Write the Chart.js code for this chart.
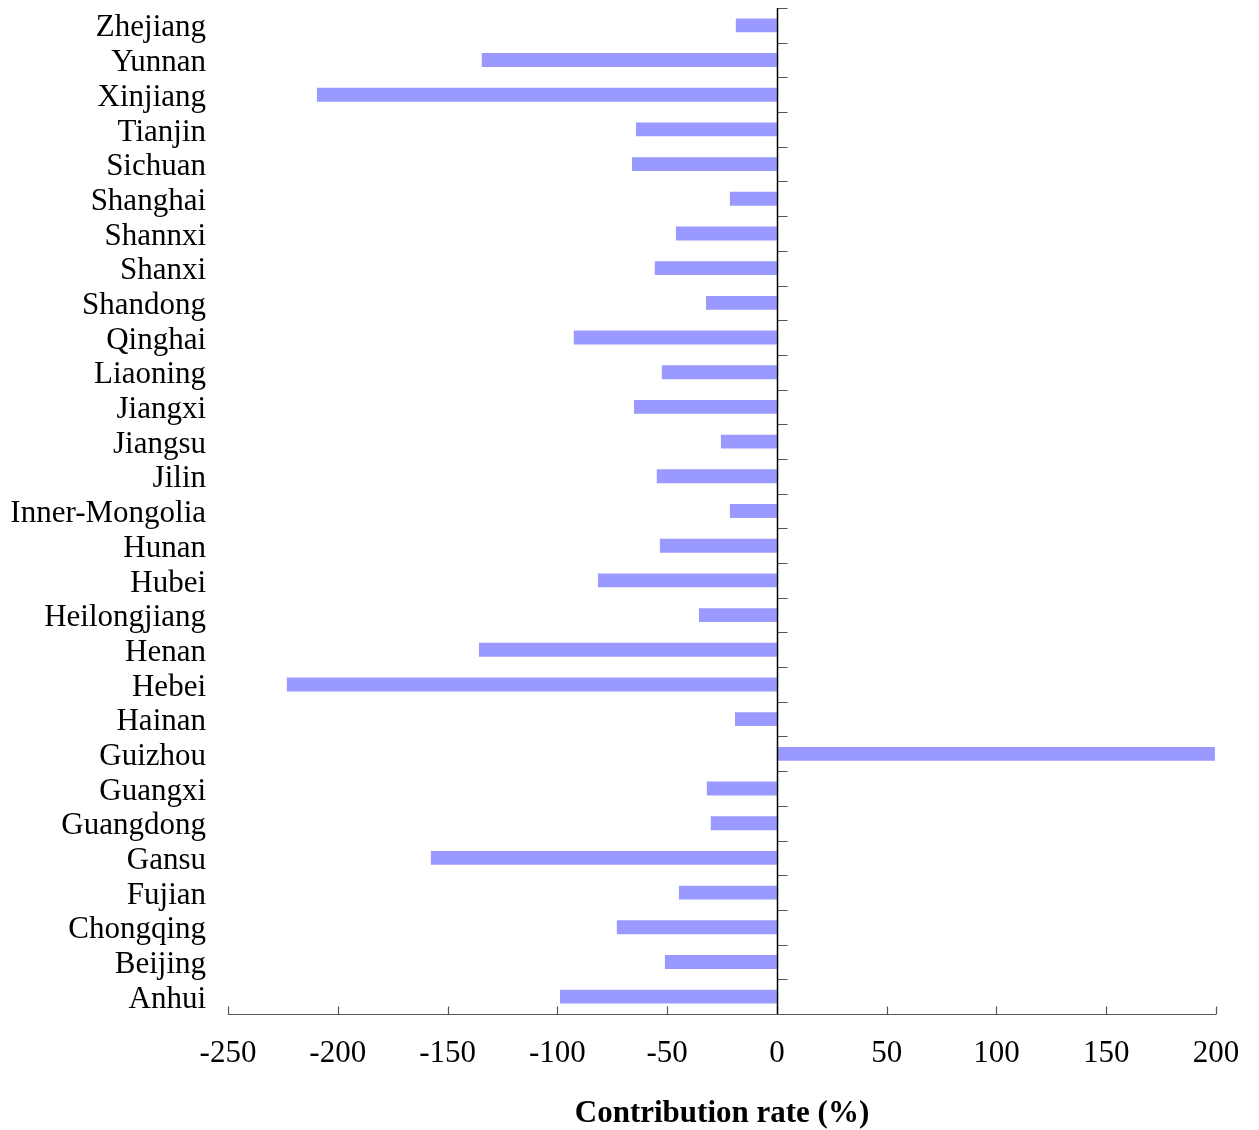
<!DOCTYPE html>
<html>
<head>
<meta charset="utf-8">
<script src="https://cdn.jsdelivr.net/npm/chart.js@4.4.1/dist/chart.umd.min.js"></script>
<style>
  html, body { margin: 0; padding: 0; background: #fff; }
  #wrap { width: 1259px; height: 1130px; position: relative; }
</style>
</head>
<body>
<div id="wrap"><canvas id="chart"></canvas></div>
<script>
// Provinces, listed bottom-to-top as they appear on the axis
const provinces = [
  'Anhui', 'Beijing', 'Chongqing', 'Fujian', 'Gansu', 'Guangdong', 'Guangxi',
  'Guizhou', 'Hainan', 'Hebei', 'Henan', 'Heilongjiang', 'Hubei', 'Hunan',
  'Inner-Mongolia', 'Jilin', 'Jiangsu', 'Jiangxi', 'Liaoning', 'Qinghai',
  'Shandong', 'Shanxi', 'Shannxi', 'Shanghai', 'Sichuan', 'Tianjin',
  'Xinjiang', 'Yunnan', 'Zhejiang'
];

// Contribution rate (%) per province
const contribution = [
  -98.8, -51.0, -72.9, -44.6, -157.6, -30.1, -31.9,
  199.5, -19.1, -223.2, -135.7, -35.5, -81.5, -53.3,
  -21.4, -54.7, -25.5, -65.1, -52.4, -92.5,
  -32.3, -55.6, -46.0, -21.4, -66.0, -64.2,
  -209.5, -134.4, -18.7
];

const xTicks = [-250, -200, -150, -100, -50, 0, 50, 100, 150, 200];

const FONT = 'Liberation Serif, Times New Roman, serif';

// Axis lines and inward tick marks: the category axis sits at x = 0
const axisPlugin = {
  id: 'axisMarks',
  afterDatasetsDraw(chart) {
    const { ctx, chartArea, scales } = chart;
    const x = scales.x, y = scales.y;
    const x0 = Math.round(x.getPixelForValue(0)) + 0.5;
    ctx.save();

    // horizontal axis with upward ticks
    ctx.strokeStyle = '#555';
    ctx.lineWidth = 1.2;
    const yb = Math.round(chartArea.bottom) + 0.5;
    ctx.beginPath();
    ctx.moveTo(chartArea.left, yb);
    ctx.lineTo(chartArea.right, yb);
    xTicks.forEach(v => {
      const px = Math.round(x.getPixelForValue(v)) + 0.5;
      ctx.moveTo(px, yb);
      ctx.lineTo(px, yb - 8);
    });
    ctx.stroke();

    // vertical axis at zero with ticks at category boundaries
    ctx.strokeStyle = '#555';
    ctx.beginPath();
    const n = provinces.length;
    const bounds = [];
    for (let i = 0; i < n - 1; i++) {
      bounds.push((y.getPixelForValue(i) + y.getPixelForValue(i + 1)) / 2);
    }
    bounds.push(chartArea.top);
    bounds.forEach(py => {
      const p = Math.round(py) + 0.5;
      ctx.moveTo(x0, p);
      ctx.lineTo(x0 + 10, p);
    });
    ctx.stroke();

    ctx.strokeStyle = '#000';
    ctx.lineWidth = 1.5;
    ctx.beginPath();
    ctx.moveTo(x0, chartArea.top);
    ctx.lineTo(x0, chartArea.bottom);
    ctx.stroke();
    ctx.restore();
  }
};

new Chart(document.getElementById('chart'), {
  type: 'bar',
  data: {
    labels: provinces,
    datasets: [{
      data: contribution,
      backgroundColor: '#9999ff',
      borderWidth: 0,
      barPercentage: 0.4,
      categoryPercentage: 1.0
    }]
  },
  options: {
    indexAxis: 'y',
    responsive: true,
    maintainAspectRatio: false,
    animation: false,
    layout: { padding: { top: 8, right: 43, left: 0, bottom: 0 } },
    plugins: {
      legend: { display: false },
      tooltip: { enabled: false }
    },
    scales: {
      x: {
        type: 'linear',
        min: -250,
        max: 200,
        afterBuildTicks(scale) {
          scale.ticks = xTicks.map(v => ({ value: v }));
        },
        afterFit(scale) {
          scale.height = 116;
          scale.paddingLeft = 0;
          scale.paddingRight = 0;
        },
        grid: { display: false, drawTicks: false },
        border: { display: false },
        ticks: {
          color: '#000',
          padding: 21,
          maxRotation: 0,
          font: { family: FONT, size: 31 }
        },
        title: {
          display: true,
          text: 'Contribution rate (%)',
          color: '#000',
          align: 'center',
          padding: { top: 0, bottom: -3 },
          font: { family: FONT, size: 31, weight: 'bold' }
        }
      },
      y: {
        reverse: true,
        afterFit(scale) {
          scale.width = 228;
          scale.paddingTop = 0;
          scale.paddingBottom = 0;
        },
        grid: { display: false, drawTicks: false },
        border: { display: false },
        ticks: {
          color: '#000',
          padding: 22,
          labelOffset: 3,
          autoSkip: false,
          font: { family: FONT, size: 31 }
        }
      }
    }
  },
  plugins: [axisPlugin]
});
</script>
</body>
</html>
